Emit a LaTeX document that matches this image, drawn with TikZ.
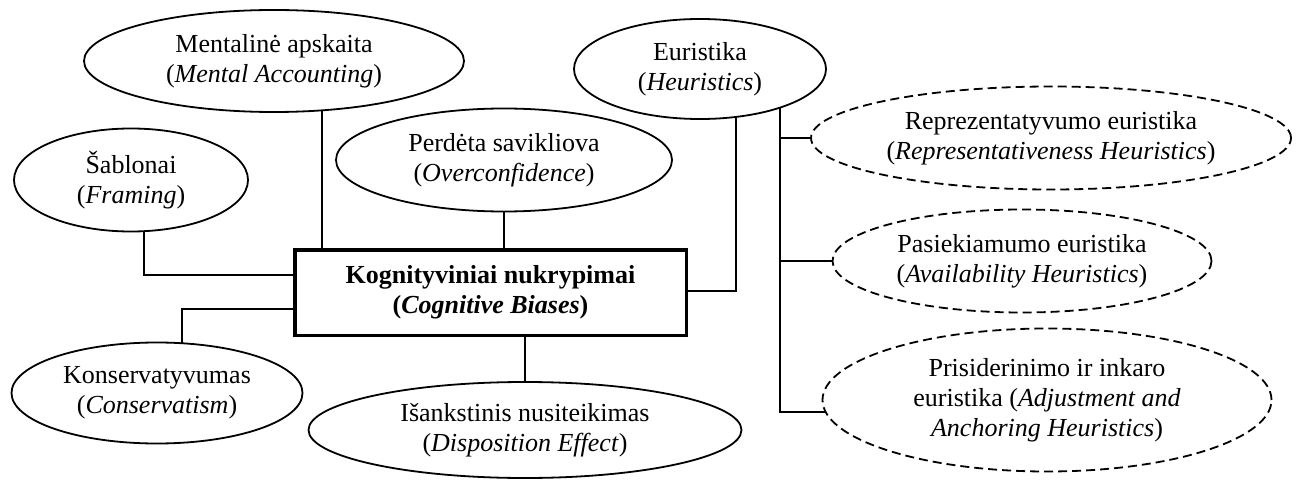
\documentclass[tikz,border=0pt]{standalone}
\usepackage{fontspec}
\setmainfont{Liberation Serif}
\usetikzlibrary{shapes.geometric,backgrounds}
\begin{document}
\begin{tikzpicture}[x=1pt,y=-1pt,
  bub/.style={ellipse,draw,line width=1.8pt,fill=white,inner sep=0pt,align=center,font=\fontsize{26}{30}\selectfont},
  dbub/.style={bub,dash pattern=on 9pt off 5pt},
  core/.style={rectangle,draw,line width=3.5pt,fill=white,inner sep=0pt,align=center,font=\fontsize{26}{30}\selectfont\bfseries},
  conn/.style={line width=1.8pt}]
\useasboundingbox (0,0) rectangle (1301,481);
\node[bub,minimum width=380pt,minimum height=102pt] (ma) at (274,61) {Mentalinė apskaita\\(\textit{Mental Accounting})};
\node[bub,minimum width=252pt,minimum height=100pt] (eu) at (700,69) {Euristika\\(\textit{Heuristics})};
\node[bub,minimum width=234pt,minimum height=103pt] (fr) at (131,180) {Šablonai\\(\textit{Framing})};
\node[bub,minimum width=336pt,minimum height=103pt] (oc) at (504,160) {Perdėta savikliova\\(\textit{Overconfidence})};
\node[core,minimum width=391.5pt,minimum height=85.5pt] (box) at (490.5,292.5) {Kognityviniai nukrypimai\\(\textit{Cognitive Biases})};
\node[bub,minimum width=291pt,minimum height=101pt] (ko) at (157,393) {Konservatyvumas\\(\textit{Conservatism})};
\node[bub,minimum width=433pt,minimum height=96pt] (di) at (525,430) {Išankstinis nusiteikimas\\(\textit{Disposition Effect})};
\node[dbub,minimum width=480pt,minimum height=103pt] (re) at (1051,138) {Reprezentatyvumo euristika\\(\textit{Representativeness Heuristics})};
\node[dbub,minimum width=379pt,minimum height=103pt] (av) at (1022,261) {Pasiekiamumo euristika\\(\textit{Availability Heuristics})};
\node[dbub,minimum width=449pt,minimum height=143pt] (ad) at (1047,400) {Prisiderinimo ir inkaro\\euristika (\textit{Adjustment and}\\\textit{Anchoring Heuristics})};
\coordinate (j1) at (144,275);
\coordinate (j2) at (322,248);
\coordinate (j4) at (736,291);
\coordinate (j5) at (780,412);
\coordinate (j6) at (182,309);
\begin{scope}[on background layer]
\draw[conn] (j1 |- fr.center) -- (j1) -- (j1 -| box.west);
\draw[conn] (j2 |- ma.center) -- (j2 |- box.north);
\draw[conn] (oc.center) -- (oc.center |- box.north);
\draw[conn] (j4 |- eu.center) -- (j4) -- (j4 -| box.east);
\draw[conn] (j5 |- eu.center) -- (j5) -- (j5 -| ad.center);
\draw[conn] (j5 |- re.center) -- (re.center);
\draw[conn] (j5 |- av.center) -- (av.center);
\draw[conn] (j6 |- ko.center) -- (j6) -- (j6 -| box.west);
\draw[conn] (di.center) -- (di.center |- box.south);
\end{scope}
\end{tikzpicture}
\end{document}
